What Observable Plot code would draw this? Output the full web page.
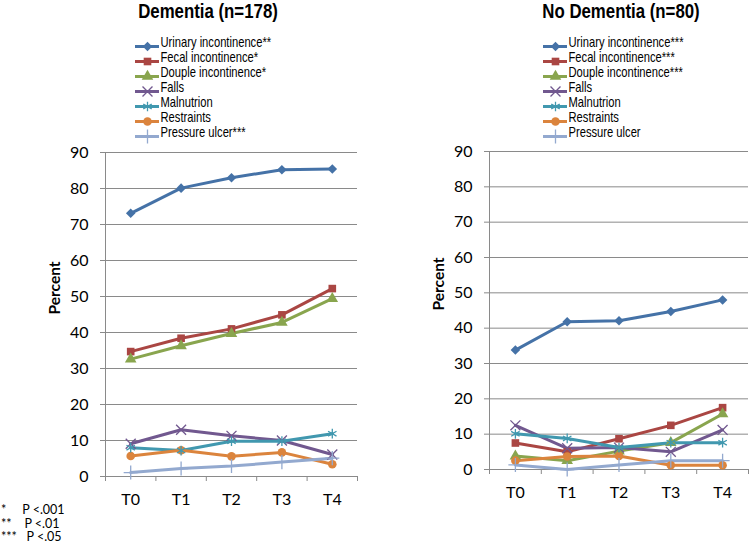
<!DOCTYPE html>
<html>
<head>
<meta charset="utf-8">
<script src="https://cdn.jsdelivr.net/npm/d3@7"></script>
<script src="https://cdn.jsdelivr.net/npm/@observablehq/plot@0.6"></script>
<style>
  html, body { margin: 0; padding: 0; background: #fff; }
  #root { position: relative; width: 750px; height: 548px; overflow: hidden; background: #fff; }
  .abs { position: absolute; }
  .title { font-family: "Liberation Sans", Arial, sans-serif; font-weight: bold; font-size: 20.5px; line-height: 21px; color: #000; white-space: nowrap; transform: translateX(-50%) scaleX(0.82); }
  .foot { font-family: Lato, "Open Sans", sans-serif; font-size: 12.5px; color: #000; white-space: pre; line-height: 13.5px; }
</style>
</head>
<body>
<div id="root"></div>
<script>
// ---------- data ----------
const categories = ["T0", "T1", "T2", "T3", "T4"];
const seriesNames = ["Urinary", "Fecal", "Douple", "Falls", "Malnutrion", "Restraints", "Pressure"];
const dementiaLegend = ["Urinary incontinence**", "Fecal incontinence*", "Douple incontinence*", "Falls", "Malnutrion", "Restraints", "Pressure ulcer***"];
const noDementiaLegend = ["Urinary incontinence***", "Fecal incontinence***", "Douple incontinence***", "Falls", "Malnutrion", "Restraints", "Pressure ulcer"];
const seriesColors = ["#4572A7", "#AA4643", "#89A54E", "#71588F", "#4198AF", "#DB843D", "#93A9CF"];
const seriesSymbols = ["diamond2", "square", "triangle", "times", "asterisk", "circle", "plus"];
const filledSeries = ["Urinary", "Fecal", "Douple", "Restraints"];
const yTicks = [0, 10, 20, 30, 40, 50, 60, 70, 80, 90];

const dementiaUrinary    = [73.1, 80.1, 83.0, 85.2, 85.4];
const dementiaFecal      = [34.7, 38.4, 41.0, 44.9, 52.2];
const dementiaDouple     = [32.6, 36.3, 39.7, 42.8, 49.4];
const dementiaFalls      = [9.1, 13.0, 11.3, 10.0, 6.1];
const dementiaMalnutrion = [8.0, 7.2, 9.8, 9.8, 11.9];
const dementiaRestraints = [5.7, 7.3, 5.6, 6.7, 3.4];
const dementiaPressure   = [1.1, 2.2, 2.9, 4.0, 5.1];

const noDemUrinary    = [33.8, 41.8, 42.1, 44.7, 48.0];
const noDemFecal      = [7.5, 5.0, 8.7, 12.5, 17.5];
const noDemDouple     = [3.8, 2.5, 5.2, 7.6, 15.7];
const noDemFalls      = [12.5, 6.0, 6.2, 5.0, 11.2];
const noDemMalnutrion = [10.1, 8.8, 6.2, 7.6, 7.6];
const noDemRestraints = [2.5, 3.7, 3.8, 1.2, 1.2];
const noDemPressure   = [1.3, 0.0, 1.3, 2.5, 2.5];

const dementiaSeries = [dementiaUrinary, dementiaFecal, dementiaDouple, dementiaFalls, dementiaMalnutrion, dementiaRestraints, dementiaPressure];
const noDemSeries = [noDemUrinary, noDemFecal, noDemDouple, noDemFalls, noDemMalnutrion, noDemRestraints, noDemPressure];

function toTable(seriesArr) {
  const rows = [];
  seriesArr.forEach((vals, s) => vals.forEach((v, i) => rows.push({series: seriesNames[s], cat: categories[i], xi: i + 0.5, value: v})));
  return rows;
}

const tickFont = 'Lato, "Open Sans", sans-serif';
const legendFont = '"Liberation Sans", Arial, sans-serif';
const gridColor = "#8a8a8a";

function panel(seriesArr, opts) {
  const data = toTable(seriesArr);
  const filled = data.filter(d => filledSeries.includes(d.series));
  const stroked = data.filter(d => !filledSeries.includes(d.series));
  return Plot.plot({
    width: opts.width, height: 380,
    marginLeft: opts.marginLeft, marginRight: opts.marginRight, marginTop: opts.marginTop, marginBottom: opts.marginBottom,
    style: {fontFamily: tickFont, fontSize: "16px", color: "#000", background: "transparent", overflow: "visible"},
    x: {type: "linear", domain: [0, categories.length], axis: null},
    y: {domain: [0, 90], axis: null},
    color: {domain: seriesNames, range: seriesColors},
    symbol: {domain: seriesNames, range: seriesSymbols},
    marks: [
      Plot.gridY(yTicks.slice(1), {stroke: gridColor, strokeOpacity: 1, strokeWidth: 1}),
      Plot.ruleY([0], {stroke: gridColor, strokeWidth: 1}),
      Plot.ruleX([0], {stroke: gridColor, strokeWidth: 1}),
      Plot.axisY({ticks: yTicks, tickSize: 5, tickPadding: 12, stroke: gridColor, fill: "#000", fontSize: 16, label: null}),
      Plot.axisX({ticks: d3.range(categories.length + 1), tickSize: 5, tickFormat: () => "", stroke: gridColor, label: null}),
      Plot.axisX({ticks: categories.map((c, i) => i + 0.5), tickSize: 0, tickPadding: 17, tickFormat: v => categories[Math.floor(v)], fill: "#000", fontSize: 16, label: null}),
      Plot.text(["Percent"], {frameAnchor: "left", rotate: -90, dx: opts.labelDx, fontWeight: "bold", fontSize: 15.5, fill: "#000"}),
      Plot.line(data, {x: "xi", y: "value", z: "series", stroke: "series", strokeWidth: 3, strokeLinejoin: "round"}),
      Plot.dot(filled, {x: "xi", y: "value", symbol: "series", fill: "series", r: 4.3, stroke: "none"}),
      Plot.dot(stroked, {x: "xi", y: "value", symbol: "series", stroke: "series", r: 4.6, strokeWidth: 1.3, fill: "none"})
    ]
  });
}

function legend(labels) {
  const rows = labels.map((l, i) => ({label: l, series: seriesNames[i]}));
  const filled = rows.filter(d => filledSeries.includes(d.series));
  const stroked = rows.filter(d => !filledSeries.includes(d.series));
  const svg = Plot.plot({
    width: 200, height: 110, margin: 0,
    style: {fontFamily: legendFont, fontSize: "14px", color: "#000", background: "transparent", overflow: "visible"},
    x: {domain: [0, 1], range: [5, 29], axis: null},
    y: {type: "point", domain: labels, range: [8, 99], padding: 0, axis: null},
    color: {domain: seriesNames, range: seriesColors},
    symbol: {domain: seriesNames, range: seriesSymbols},
    marks: [
      Plot.ruleY(rows, {y: "label", x1: 0, x2: 1, stroke: "series", strokeWidth: 3}),
      Plot.dot(filled, {y: "label", x: 0.5, symbol: "series", fill: "series", r: 4.3}),
      Plot.dot(stroked, {y: "label", x: 0.5, symbol: "series", stroke: "series", r: 4.6, strokeWidth: 1.3}),
      Plot.text(rows, {y: "label", x: 1, text: "label", textAnchor: "start", dx: 1, fill: "#000", fontSize: 14})
    ]
  });
  // narrow the legend text (Arial Narrow look)
  svg.querySelectorAll('g[aria-label="text"] text').forEach(t => {
    let tr = t.getAttribute("transform") || "";
    if (t.hasAttribute("x") || t.hasAttribute("y")) {
      const x = +t.getAttribute("x") || 0, y = +t.getAttribute("y") || 0;
      tr = tr + ` translate(${x},${y})`;
      t.removeAttribute("x"); t.removeAttribute("y");
    }
    t.setAttribute("transform", tr + " scale(0.8,1)");
  });
  return svg;
}

const root = document.getElementById("root");
function place(node, left, top) {
  node.classList.add("abs");
  node.style.left = left + "px";
  node.style.top = top + "px";
  root.appendChild(node);
}

// titles
function title(text, cx, top) {
  const d = document.createElement("div");
  d.className = "title";
  d.textContent = text;
  place(d, cx, top);
}
title("Dementia (n=178)", 208, 0);
title("No Dementia (n=80)", 621, 0);

// legends
place(legend(dementiaLegend), 130, 37);
place(legend(noDementiaLegend), 538, 37);

// panels
place(panel(dementiaSeries, {width: 375, marginLeft: 105, marginRight: 18, marginTop: 12, marginBottom: 44, labelDx: -50}), 0, 140);
place(panel(noDemSeries, {width: 375, marginLeft: 114, marginRight: 2, marginTop: 11, marginBottom: 51, labelDx: -50}), 375, 140);

// footnote
const foot = document.createElement("div");
foot.className = "foot";
foot.textContent = "*     P <.001\n**    P <.01\n***   P <.05";
place(foot, 1, 503);
</script>
</body>
</html>
